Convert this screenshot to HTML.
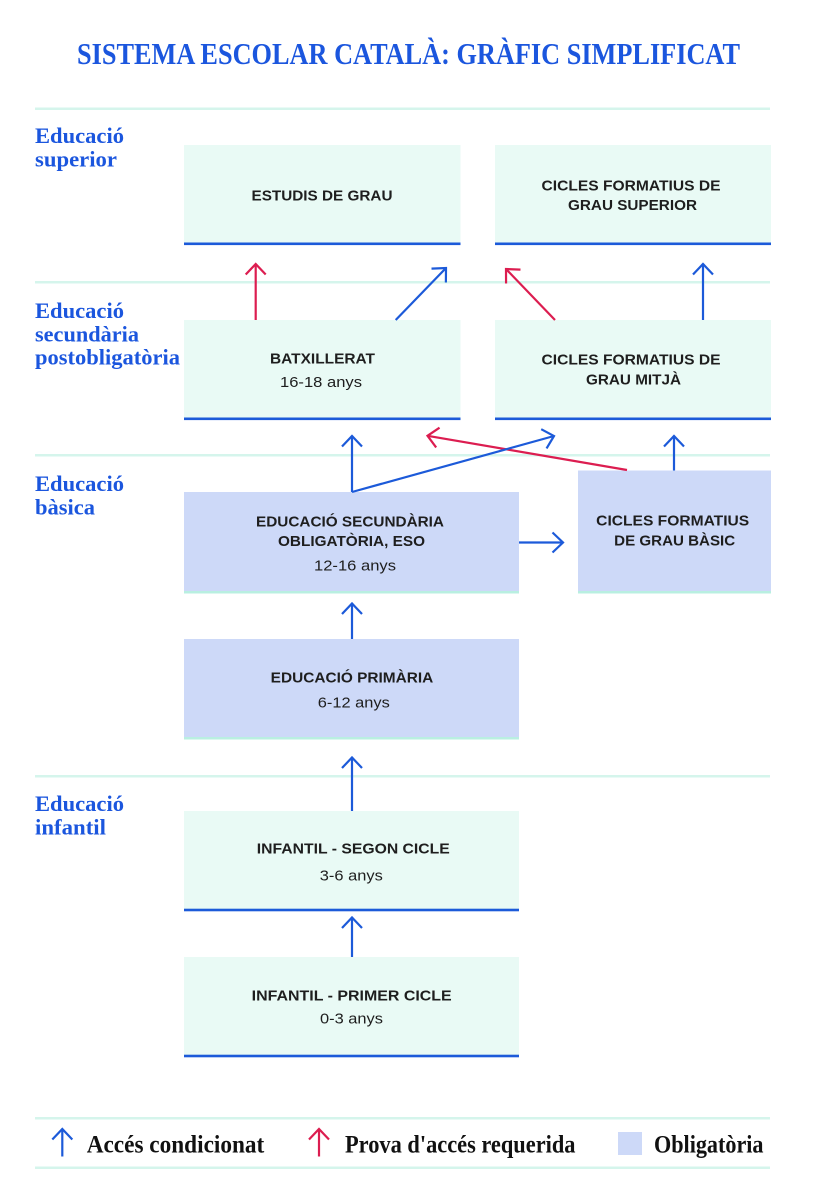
<!DOCTYPE html>
<html>
<head>
<meta charset="utf-8">
<style>
html,body{margin:0;padding:0;background:#fff;}
svg{display:block;}
.t{font-family:"Liberation Serif",serif;font-weight:bold;fill:#1b56de;}
.s{font-family:"Liberation Serif",serif;font-weight:bold;fill:#1b56de;font-size:22.5px;}
.b{font-family:"Liberation Sans",sans-serif;font-weight:bold;fill:#1e1e1e;font-size:15px;text-anchor:middle;}
.r{font-family:"Liberation Sans",sans-serif;fill:#1e1e1e;font-size:15px;text-anchor:middle;}
.l{font-family:"Liberation Serif",serif;font-weight:bold;fill:#111;font-size:25px;}
.ab{stroke:#1c5ad9;stroke-width:2.2;fill:none;}
.ar{stroke:#dc1d50;stroke-width:2.2;fill:none;}
</style>
</head>
<body>
<svg width="817" height="1200" viewBox="0 0 817 1200" xmlns="http://www.w3.org/2000/svg">
<defs>
<marker id="mb" viewBox="-14 -12 16 24" refX="0" refY="0" markerWidth="16" markerHeight="24" markerUnits="userSpaceOnUse" orient="auto">
<path d="M-10.5,-10 L0,0 L-10.5,10" fill="none" stroke="#1c5ad9" stroke-width="2.2"/>
</marker>
<marker id="mr" viewBox="-14 -12 16 24" refX="0" refY="0" markerWidth="16" markerHeight="24" markerUnits="userSpaceOnUse" orient="auto">
<path d="M-10.5,-10 L0,0 L-10.5,10" fill="none" stroke="#dc1d50" stroke-width="2.2"/>
</marker>
</defs>

<!-- Title -->
<text class="t" x="77" y="64" font-size="31" textLength="663" lengthAdjust="spacingAndGlyphs">SISTEMA ESCOLAR CATALÀ: GRÀFIC SIMPLIFICAT</text>

<!-- Horizontal rules -->
<g fill="#d5f5ec">
<rect x="35" y="107.5" width="735" height="2.5"/>
<rect x="35" y="281" width="735" height="2.5"/>
<rect x="35" y="454" width="735" height="2.5"/>
<rect x="35" y="775" width="735" height="2.5"/>
<rect x="35" y="1117" width="735" height="2.5"/>
<rect x="35" y="1166.5" width="735" height="2.5"/>
</g>

<!-- Side labels -->
<text class="s" x="35" y="143" textLength="89" lengthAdjust="spacingAndGlyphs">Educació</text>
<text class="s" x="35" y="166.5" textLength="82" lengthAdjust="spacingAndGlyphs">superior</text>

<text class="s" x="35" y="318" textLength="89" lengthAdjust="spacingAndGlyphs">Educació</text>
<text class="s" x="35" y="341.5" textLength="104" lengthAdjust="spacingAndGlyphs">secundària</text>
<text class="s" x="35" y="364.5" textLength="145" lengthAdjust="spacingAndGlyphs">postobligatòria</text>

<text class="s" x="35" y="491" textLength="89" lengthAdjust="spacingAndGlyphs">Educació</text>
<text class="s" x="35" y="514.5" textLength="60" lengthAdjust="spacingAndGlyphs">bàsica</text>

<text class="s" x="35" y="811" textLength="89" lengthAdjust="spacingAndGlyphs">Educació</text>
<text class="s" x="35" y="834.5" textLength="71" lengthAdjust="spacingAndGlyphs">infantil</text>

<!-- Boxes: superior -->
<rect x="184" y="145" width="276.5" height="99" fill="#e9faf5"/>
<rect x="184" y="242.5" width="276.5" height="2.6" fill="#1c5ad9"/>
<rect x="495" y="145" width="276" height="99" fill="#e9faf5"/>
<rect x="495" y="242.5" width="276" height="2.6" fill="#1c5ad9"/>

<!-- Boxes: postobligatoria -->
<rect x="184" y="320" width="276.5" height="99" fill="#e9faf5"/>
<rect x="184" y="417.5" width="276.5" height="2.6" fill="#1c5ad9"/>
<rect x="495" y="320" width="276" height="99" fill="#e9faf5"/>
<rect x="495" y="417.5" width="276" height="2.6" fill="#1c5ad9"/>

<!-- Boxes: basica -->
<rect x="184" y="492" width="335" height="101" fill="#cdd9f8"/>
<rect x="184" y="591" width="335" height="2.5" fill="#b9efe1"/>
<rect x="578" y="470.5" width="193" height="122.5" fill="#cdd9f8"/>
<rect x="578" y="591" width="193" height="2.5" fill="#b9efe1"/>

<rect x="184" y="639" width="335" height="100" fill="#cdd9f8"/>
<rect x="184" y="737" width="335" height="2.5" fill="#b9efe1"/>

<!-- Boxes: infantil -->
<rect x="184" y="811" width="335" height="99" fill="#e9faf5"/>
<rect x="184" y="908.7" width="335" height="2.6" fill="#1c5ad9"/>
<rect x="184" y="957" width="335" height="99" fill="#e9faf5"/>
<rect x="184" y="1054.7" width="335" height="2.6" fill="#1c5ad9"/>

<!-- Box texts -->
<text class="b" x="322" y="200.5" textLength="141" lengthAdjust="spacingAndGlyphs">ESTUDIS DE GRAU</text>
<text class="b" x="631" y="190.5" textLength="179" lengthAdjust="spacingAndGlyphs">CICLES FORMATIUS DE</text>
<text class="b" x="632.5" y="209.8" textLength="129" lengthAdjust="spacingAndGlyphs">GRAU SUPERIOR</text>

<text class="b" x="322.5" y="363.7" textLength="105" lengthAdjust="spacingAndGlyphs">BATXILLERAT</text>
<text class="r" x="321" y="387" textLength="82" lengthAdjust="spacingAndGlyphs">16-18 anys</text>
<text class="b" x="631" y="364.7" textLength="179" lengthAdjust="spacingAndGlyphs">CICLES FORMATIUS DE</text>
<text class="b" x="633.5" y="384.7" textLength="95" lengthAdjust="spacingAndGlyphs">GRAU MITJÀ</text>

<text class="b" x="350" y="526.4" textLength="188" lengthAdjust="spacingAndGlyphs">EDUCACIÓ SECUNDÀRIA</text>
<text class="b" x="351.5" y="546" textLength="147" lengthAdjust="spacingAndGlyphs">OBLIGATÒRIA, ESO</text>
<text class="r" x="355" y="570.4" textLength="82" lengthAdjust="spacingAndGlyphs">12-16 anys</text>
<text class="b" x="672.7" y="525.4" textLength="153" lengthAdjust="spacingAndGlyphs">CICLES FORMATIUS</text>
<text class="b" x="674.7" y="545.4" textLength="121" lengthAdjust="spacingAndGlyphs">DE GRAU BÀSIC</text>

<text class="b" x="352" y="682.7" textLength="162.6" lengthAdjust="spacingAndGlyphs">EDUCACIÓ PRIMÀRIA</text>
<text class="r" x="353.8" y="707.7" textLength="72" lengthAdjust="spacingAndGlyphs">6-12 anys</text>

<text class="b" x="353.3" y="853.4" textLength="193" lengthAdjust="spacingAndGlyphs">INFANTIL - SEGON CICLE</text>
<text class="r" x="351.3" y="880.4" textLength="63" lengthAdjust="spacingAndGlyphs">3-6 anys</text>
<text class="b" x="351.7" y="1000.4" textLength="200" lengthAdjust="spacingAndGlyphs">INFANTIL - PRIMER CICLE</text>
<text class="r" x="351.5" y="1023.4" textLength="63" lengthAdjust="spacingAndGlyphs">0-3 anys</text>

<!-- Arrows -->
<line class="ar" x1="255.7" y1="320" x2="255.7" y2="264" marker-end="url(#mr)"/>
<line class="ab" x1="395.7" y1="320" x2="446" y2="268" marker-end="url(#mb)"/>
<line class="ar" x1="555" y1="320" x2="506" y2="269" marker-end="url(#mr)"/>
<line class="ab" x1="703" y1="320" x2="703" y2="264" marker-end="url(#mb)"/>

<line class="ar" x1="627" y1="470" x2="427.5" y2="435.8" marker-end="url(#mr)"/>
<line class="ab" x1="352" y1="492" x2="352" y2="436" marker-end="url(#mb)"/>
<line class="ab" x1="352" y1="492" x2="554" y2="436" marker-end="url(#mb)"/>
<line class="ab" x1="674" y1="470.5" x2="674" y2="436" marker-end="url(#mb)"/>
<line class="ab" x1="519" y1="542.5" x2="563" y2="542.5" marker-end="url(#mb)"/>

<line class="ab" x1="352" y1="639" x2="352" y2="603.5" marker-end="url(#mb)"/>
<line class="ab" x1="352" y1="811" x2="352" y2="757.5" marker-end="url(#mb)"/>
<line class="ab" x1="352" y1="957" x2="352" y2="917.5" marker-end="url(#mb)"/>

<!-- Legend -->
<line class="ab" x1="62.3" y1="1156.5" x2="62.3" y2="1129" marker-end="url(#mb)"/>
<text class="l" x="86.7" y="1152.3" textLength="177.6" lengthAdjust="spacingAndGlyphs">Accés condicionat</text>
<line class="ar" x1="319" y1="1156.5" x2="319" y2="1129" marker-end="url(#mr)"/>
<text class="l" x="345" y="1152.3" textLength="230.5" lengthAdjust="spacingAndGlyphs">Prova d'accés requerida</text>
<rect x="618" y="1132" width="24" height="23" fill="#cdd9f8"/>
<text class="l" x="654" y="1152.3" textLength="109.5" lengthAdjust="spacingAndGlyphs">Obligatòria</text>
</svg>
</body>
</html>
